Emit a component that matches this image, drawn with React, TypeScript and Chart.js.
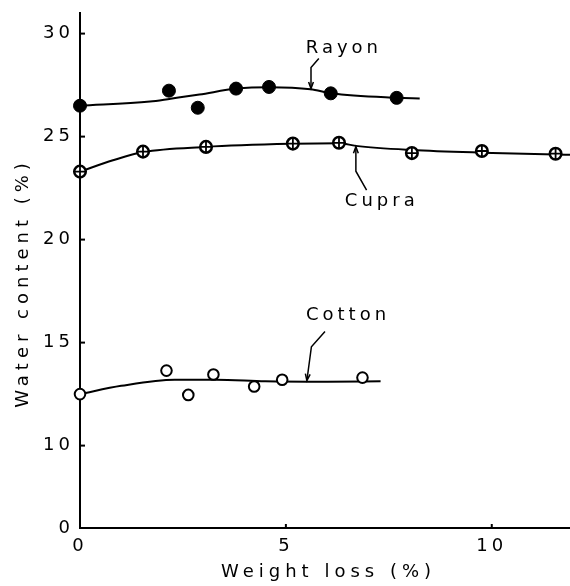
import React, { useEffect, useRef } from 'react';
import { Chart, registerables } from 'chart.js';
Chart.register(...registerables);

// Measured points
const rayonX = [0, 2.16, 2.86, 3.79, 4.59, 6.09, 7.69];
const rayonY = [26.5, 27.23, 26.4, 27.33, 27.41, 27.1, 26.88];
const cupraX = [0, 1.53, 3.06, 5.17, 6.29, 8.06, 9.76, 11.55];
const cupraY = [23.3, 24.27, 24.5, 24.66, 24.7, 24.2, 24.3, 24.17];
const cottonX = [0, 2.1, 2.63, 3.24, 4.23, 4.91, 6.86];
const cottonY = [12.5, 13.64, 12.46, 13.45, 12.87, 13.2, 13.3];

// Hand-fitted curves as drawn in the figure
const rayonCurveX = [0, 1.7, 2.2, 2.9, 3.8, 4.6, 5.6, 6.1, 7.7, 8.25];
const rayonCurveY = [26.5, 26.7, 26.84, 27.04, 27.33, 27.4, 27.3, 27.1, 26.88, 26.85];
const cupraCurveX = [0, 0.8, 1.53, 3.06, 5.17, 6.29, 6.7, 8.06, 9.76, 11.55, 11.9];
const cupraCurveY = [23.3, 23.85, 24.25, 24.5, 24.65, 24.68, 24.55, 24.35, 24.22, 24.13, 24.12];
const cottonCurveX = [0, 1.0, 2.3, 3.3, 4.5, 6.0, 7.3];
const cottonCurveY = [12.5, 12.9, 13.2, 13.2, 13.12, 13.1, 13.12];

// Axes (y axis is broken: the "0" tick sits at the break position 6)
const xTickValues = [0, 5, 10];
const xTickLabels = ['0', '5', '10'];
const yTickValues = [6, 10, 15, 20, 25, 30];
const yTickLabels = ['0', '10', '15', '20', '25', '30'];
const xMin = 0, xMax = 11.9, yMin = 6, yMax = 31;
const xTitle = 'Weight loss (%)';
const yTitle = 'Water content (%)';

// Curve labels and arrows (data coordinates)
const labelTexts = ['Rayon', 'Cupra', 'Cotton'];
const labelX = [6.36, 7.28, 6.46];
const labelY = [29.27, 21.84, 16.33];
const arrowRayonX = [5.8, 5.61, 5.61];
const arrowRayonY = [28.79, 28.35, 27.33];
const arrowCupraX = [6.96, 6.7, 6.7];
const arrowCupraY = [22.4, 23.32, 24.51];
const arrowCottonX = [5.95, 5.62, 5.51];
const arrowCottonY = [15.54, 14.8, 13.16];

const pts = (xs: number[], ys: number[]) => xs.map((x, i) => ({ x, y: ys[i] }));

const FONT = '"DejaVu Sans", sans-serif';
const FSIZE = 18;
const SPACING = 4;
const TITLE_SPACING = 5;

export default function App() {
  const ref = useRef<HTMLCanvasElement | null>(null);
  useEffect(() => {
    document.body.style.margin = '0';
    const canvas = ref.current!;
    const arrows = [
      [arrowRayonX, arrowRayonY],
      [arrowCupraX, arrowCupraY],
      [arrowCottonX, arrowCottonY],
    ];
    const decor = {
      id: 'decor',
      beforeUpdate(chart: any) {
        chart.ctx.letterSpacing = SPACING + 'px';
      },
      beforeDraw(chart: any) {
        const ctx = chart.ctx;
        ctx.save();
        ctx.fillStyle = '#fff';
        ctx.fillRect(0, 0, chart.width, chart.height);
        ctx.restore();
        ctx.letterSpacing = SPACING + 'px';
      },
      afterDraw(chart: any) {
        const ctx = chart.ctx;
        const xs = chart.scales.x;
        const ys = chart.scales.y;
        const ca = chart.chartArea;
        ctx.save();
        ctx.strokeStyle = '#000';
        ctx.fillStyle = '#000';
        ctx.lineWidth = 2;
        yTickValues.forEach((v, i) => {
          if (i === 0) return;
          const py = ys.getPixelForValue(v);
          ctx.beginPath();
          ctx.moveTo(ca.left, py);
          ctx.lineTo(ca.left + 5, py);
          ctx.stroke();
        });
        xTickValues.forEach((v, i) => {
          if (i === 0) return;
          const px = xs.getPixelForValue(v);
          ctx.beginPath();
          ctx.moveTo(px, ca.bottom);
          ctx.lineTo(px, ca.bottom - 4);
          ctx.stroke();
        });
        ctx.font = FSIZE + 'px ' + FONT;
        ctx.textAlign = 'center';
        ctx.textBaseline = 'middle';
        ctx.letterSpacing = SPACING + 'px';
        labelTexts.forEach((t, i) => {
          ctx.fillText(t, xs.getPixelForValue(labelX[i]) + SPACING / 2, ys.getPixelForValue(labelY[i]));
        });
        // axis titles
        ctx.letterSpacing = TITLE_SPACING + 'px';
        ctx.fillText(xTitle, (ca.left + ca.right) / 2 + 1 + TITLE_SPACING / 2, 572);
        ctx.save();
        ctx.translate(23, (ca.top + ca.bottom) / 2 + 15);
        ctx.rotate(-Math.PI / 2);
        ctx.fillText(yTitle, TITLE_SPACING / 2, 0);
        ctx.restore();
        ctx.letterSpacing = '0px';
        ctx.lineWidth = 1.5;
        arrows.forEach(([ax, ay]) => {
          const p = ax.map((x: number, i: number) => [xs.getPixelForValue(x), ys.getPixelForValue(ay[i])]);
          ctx.beginPath();
          ctx.moveTo(p[0][0], p[0][1]);
          for (let i = 1; i < p.length; i++) ctx.lineTo(p[i][0], p[i][1]);
          ctx.stroke();
          const [tx, ty] = p[p.length - 1];
          const [bx, by] = p[p.length - 2];
          const ang = Math.atan2(ty - by, tx - bx);
          const L = 7, a = 0.35;
          ctx.beginPath();
          ctx.moveTo(tx - L * Math.cos(ang - a), ty - L * Math.sin(ang - a));
          ctx.lineTo(tx, ty);
          ctx.lineTo(tx - L * Math.cos(ang + a), ty - L * Math.sin(ang + a));
          ctx.stroke();
        });
        ctx.restore();
      },
    };

    const curve = (xs: number[], ys: number[]) => ({
      type: 'line' as const,
      data: pts(xs, ys),
      borderColor: '#000',
      borderWidth: 2,
      pointRadius: 0,
      showLine: true,
      fill: false,
      cubicInterpolationMode: 'monotone' as const,
      clip: false as any,
      order: 3,
    });

    const chart = new Chart(canvas, {
      type: 'scatter',
      data: {
        datasets: [
          curve(rayonCurveX, rayonCurveY),
          curve(cupraCurveX, cupraCurveY),
          curve(cottonCurveX, cottonCurveY),
          {
            label: 'Rayon',
            data: pts(rayonX, rayonY),
            pointRadius: 6.5,
            pointStyle: 'circle',
            backgroundColor: '#000',
            borderColor: '#000',
            borderWidth: 1,
            clip: false as any,
            order: 1,
          },
          {
            label: 'Cupra',
            data: pts(cupraX, cupraY),
            pointRadius: 5.8,
            pointStyle: 'circle',
            backgroundColor: '#fff',
            borderColor: '#000',
            borderWidth: 2.5,
            clip: false as any,
            order: 1,
          },
          {
            label: 'Cupra cross',
            data: pts(cupraX, cupraY),
            pointRadius: 6,
            pointStyle: 'cross',
            backgroundColor: '#000',
            borderColor: '#000',
            borderWidth: 1.8,
            clip: false as any,
            order: 0,
          },
          {
            label: 'Cotton',
            data: pts(cottonX, cottonY),
            pointRadius: 5.3,
            pointStyle: 'circle',
            backgroundColor: '#fff',
            borderColor: '#000',
            borderWidth: 2,
            clip: false as any,
            order: 1,
          },
        ],
      },
      options: {
        responsive: false,
        animation: false,
        events: [],
        layout: { autoPadding: false, padding: { top: 13, right: 0, left: 0, bottom: 0 } },
        plugins: { legend: { display: false }, tooltip: { enabled: false } },
        scales: {
          x: {
            type: 'linear',
            min: xMin,
            max: xMax,
            grid: { display: false, drawTicks: false },
            border: { display: true, color: '#000', width: 2 },
            afterBuildTicks: (s: any) => {
              s.ticks = xTickValues.map((v) => ({ value: v }));
            },
            afterFit: (s: any) => {
              s.height = 58;
              s.paddingLeft = 0;
              s.paddingRight = 0;
            },
            ticks: {
              color: '#000',
              padding: 8,
              maxRotation: 0,
              autoSkip: false,
              font: { family: FONT, size: FSIZE },
              callback: (v: any) => {
                const i = xTickValues.indexOf(Number(v));
                return i >= 0 ? xTickLabels[i] : '';
              },
            },
            title: { display: false },
          },
          y: {
            type: 'linear',
            min: yMin,
            max: yMax,
            grid: { display: false, drawTicks: false },
            border: { display: true, color: '#000', width: 2 },
            afterBuildTicks: (s: any) => {
              s.ticks = yTickValues.map((v) => ({ value: v }));
            },
            afterFit: (s: any) => {
              s.width = 80;
              s.paddingTop = 0;
              s.paddingBottom = 0;
            },
            ticks: {
              color: '#000',
              padding: 6,
              autoSkip: false,
              font: { family: FONT, size: FSIZE },
              callback: (v: any) => {
                const i = yTickValues.indexOf(Number(v));
                return i >= 0 ? yTickLabels[i] : '';
              },
            },
            title: { display: false },
          },
        },
      },
      plugins: [decor],
    } as any);
    return () => chart.destroy();
  }, []);
  return (
    <div style={{ width: 570, height: 586 }}>
      <canvas ref={ref} width={570} height={586} style={{ display: 'block' }} />
    </div>
  );
}
